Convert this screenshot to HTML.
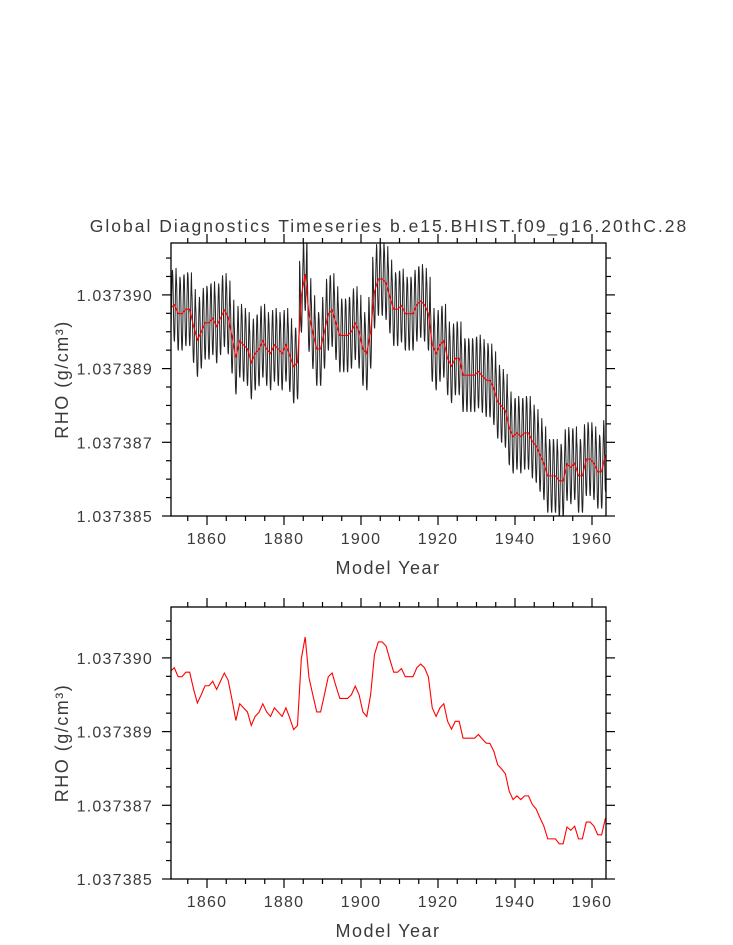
<!DOCTYPE html>
<html><head><meta charset="utf-8"><style>
html,body{margin:0;padding:0;background:#fff;}
svg{display:block;font-family:"Liberation Sans",sans-serif;}
text{fill:#3a3a3a;}
</style></head><body>
<svg id="chart" width="733" height="945" viewBox="0 0 733 945" xmlns="http://www.w3.org/2000/svg">
<text x="389" y="232" font-size="17.5" text-anchor="middle" letter-spacing="2">Global Diagnostics Timeseries b.e15.BHIST.f09_g16.20thC.28</text>
</svg>
<script>
// annual mean values, in units of 1e-6 above 1.037385, for years starting 1850
const years = [];
const startYear = 1850;
const annualValues = [5.07,5.16,4.94,4.94,5.05,5.05,4.64,4.30,4.50,4.72,4.72,4.83,4.63,4.83,5.03,4.85,4.38,3.87,4.28,4.18,4.08,3.75,3.97,4.07,4.28,4.08,3.97,4.18,4.08,3.97,4.18,3.93,3.65,3.75,5.38,5.91,4.91,4.49,4.08,4.08,4.50,4.94,5.03,4.71,4.41,4.41,4.41,4.50,4.71,4.50,4.08,3.97,4.50,5.48,5.79,5.79,5.69,5.36,5.05,5.05,5.14,4.94,4.94,4.94,5.16,5.25,5.16,4.94,4.18,3.97,4.18,4.28,3.85,3.66,3.85,3.85,3.44,3.44,3.44,3.44,3.53,3.42,3.32,3.31,3.12,2.79,2.69,2.57,2.14,1.94,2.03,1.94,2.03,2.03,1.82,1.71,1.49,1.29,0.98,0.98,0.98,0.86,0.86,1.27,1.19,1.29,0.98,0.98,1.39,1.39,1.29,1.08,1.08,1.49];
for (let i = 0; i < annualValues.length; i++) years.push(startYear + i);
// monthly seasonal anomaly (1e-6)
const seasonalCycle = [0.85,0.7,0.3,-0.2,-0.6,-0.85,-0.9,-0.7,-0.3,0.2,0.6,0.9];
const yTickValues = [0, 1.8, 3.6, 5.4];
const yTickLabels = ["1.037385","1.037387","1.037389","1.037390"];
const xTickYears = [1860,1880,1900,1920,1940,1960];

const NS = "http://www.w3.org/2000/svg";
const svg = document.getElementById('chart');
const L = 171, R = 606;
function xScale(yr){ return 207 + (yr - 1860) * 3.85; }
function mk(tag, attrs, parent){ const e = document.createElementNS(NS, tag); for (const k in attrs) e.setAttribute(k, attrs[k]); (parent||svg).appendChild(e); return e; }

function panel(top, bottom, name, withMonthly){
  const g = mk('g', {});
  
  
  const yScale = v => bottom - v / 1.8 * 73.7;
  const clipId = name + '-clip';
  const cp = mk('clipPath', {id: clipId}, g);
  mk('rect', {x: L, y: top, width: R - L, height: bottom - top}, cp);
  if (withMonthly) {
    let d = '';
    for (let i = 0; i < annualValues.length; i++) {
      for (let m = 0; m < 12; m++) {
        const yr = years[i] + (m + 0.5) / 12;
        const v = annualValues[i] + seasonalCycle[m];
        d += (d ? 'L' : 'M') + xScale(yr).toFixed(2) + ',' + yScale(v).toFixed(2);
      }
    }
    const p = mk('path', {d: d, fill: 'none', stroke: '#222', 'stroke-width': 1, 'clip-path': 'url(#' + clipId + ')'}, g);
    
    
  }
  let d2 = '';
  for (let i = 0; i < annualValues.length; i++) {
    d2 += (d2 ? 'L' : 'M') + xScale(years[i] + 0.5).toFixed(2) + ',' + yScale(annualValues[i]).toFixed(2);
  }
  const rp = mk('path', {d: d2, fill: 'none', stroke: '#f00', 'stroke-width': 1.1, 'clip-path': 'url(#' + clipId + ')'}, g);
  
  
  const box = mk('rect', {x: L, y: top, width: R - L, height: bottom - top, fill: 'none', stroke: '#000', 'stroke-width': 1.3}, g);
  
  
  for (let k = 0; k <= 14; k++) {
    const v = k * 0.45;
    const y = yScale(v);
    if (y < top - 0.5) break;
    const len = (k % 4 === 0) ? 9 : 5;
    mk('line', {x1: L - len, x2: L, y1: y, y2: y, stroke: '#000', 'stroke-width': 1.2}, g);
    mk('line', {x1: R, x2: R + len, y1: y, y2: y, stroke: '#000', 'stroke-width': 1.2}, g);
  }
  for (let k = 0; k < yTickValues.length; k++) {
    const t = mk('text', {x: 153, y: yScale(yTickValues[k]) + 6, 'font-size': 16, 'text-anchor': 'end', 'letter-spacing': 1.2}, g);
    t.textContent = yTickLabels[k];
    
    
  }
  for (let yr = 1850; yr <= 1965; yr += 5) {
    const x = xScale(yr);
    if (x < L - 0.5 || x > R + 0.5) continue;
    const len = (yr % 20 === 0) ? 9 : 5;
    mk('line', {x1: x, x2: x, y1: bottom, y2: bottom + len, stroke: '#000', 'stroke-width': 1.2}, g);
    mk('line', {x1: x, x2: x, y1: top - len, y2: top, stroke: '#000', 'stroke-width': 1.2}, g);
  }
  for (const yr of xTickYears) {
    const t = mk('text', {x: xScale(yr), y: bottom + 28, 'font-size': 16, 'text-anchor': 'middle', 'letter-spacing': 1.2}, g);
    t.textContent = String(yr);
    
    
  }
  const xt = mk('text', {x: 388, y: bottom + 58, 'font-size': 18, 'text-anchor': 'middle', 'letter-spacing': 1.5}, g);
  xt.textContent = 'Model Year';
  
  
  const cy = (top + bottom) / 2;
  const yt = mk('text', {x: 68, y: cy, 'font-size': 18, 'text-anchor': 'middle', 'letter-spacing': 1.5, transform: 'rotate(-90 68 ' + cy + ')'}, g);
  yt.textContent = 'RHO (g/cm³)';
  
  
}
panel(243, 516, 'monthly-panel', true);
panel(607, 879, 'annual-panel', false);
</script>
</body></html>
